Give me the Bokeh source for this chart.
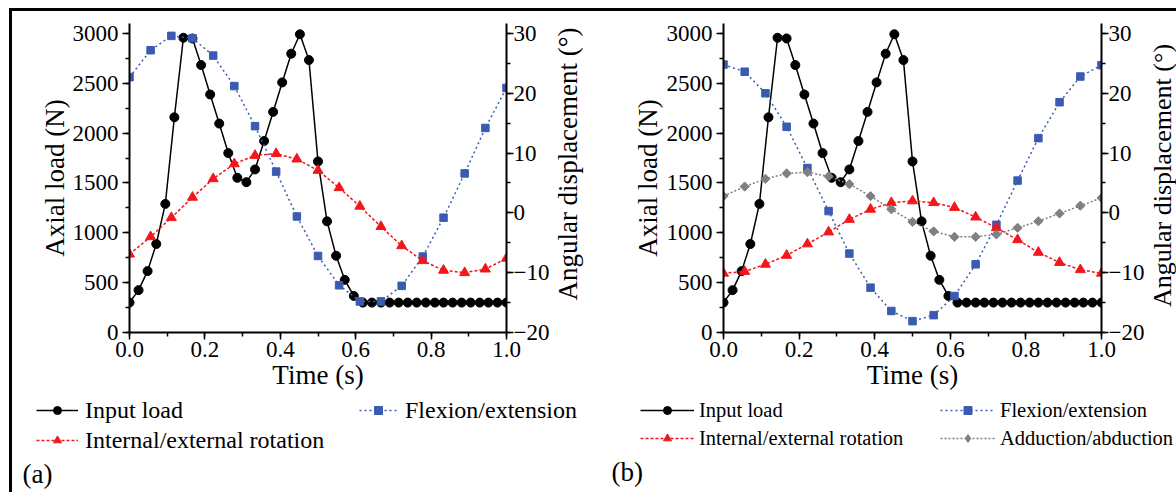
import math
from bokeh.plotting import figure
from bokeh.models import (Range1d, LinearAxis, SingleIntervalTicker, PrintfTickFormatter,
                          Label, Legend, LegendItem)
from bokeh.layouts import row, column
from bokeh.embed import file_html
from bokeh.resources import INLINE

# ---------------- data ----------------
time_load = [0.000, 0.024, 0.048, 0.071, 0.095, 0.119, 0.143, 0.167, 0.190, 0.214,
             0.238, 0.262, 0.286, 0.310, 0.333, 0.357, 0.381, 0.405, 0.429, 0.452,
             0.476, 0.500, 0.524, 0.548, 0.571, 0.595, 0.619, 0.643, 0.667, 0.690,
             0.714, 0.738, 0.762, 0.786, 0.810, 0.833, 0.857, 0.881, 0.905, 0.929,
             0.952, 0.976, 1.000]
load_n = [300, 425, 616, 888, 1290, 2159, 2957, 2950, 2683, 2388,
          2096, 1800, 1552, 1508, 1636, 1921, 2213, 2509, 2797, 2992,
          2733, 1716, 1115, 770, 528, 367, 300, 300, 300, 300,
          300, 300, 300, 300, 300, 300, 300, 300, 300, 300,
          300, 300, 300]

time_angle = [0.000, 0.056, 0.111, 0.167, 0.222, 0.278, 0.333, 0.389, 0.444, 0.500,
              0.556, 0.611, 0.667, 0.722, 0.778, 0.833, 0.889, 0.944, 1.000]
flex_a = [22.7, 27.2, 29.6, 29.2, 26.3, 21.2, 14.5, 6.9, -0.6, -7.2,
          -12.1, -14.8, -14.8, -12.2, -7.3, -0.8, 6.6, 14.2, 20.9]
rot_a = [-6.9, -4.0, -0.8, 2.6, 5.7, 8.2, 9.6, 9.9, 9.0, 7.1,
         4.2, 1.1, -2.3, -5.5, -8.0, -9.6, -10.0, -9.4, -7.6]
flex_b = [24.8, 23.6, 20.0, 14.4, 7.5, 0.3, -6.8, -12.5, -16.4, -18.1,
          -17.1, -13.9, -8.6, -2.0, 5.4, 12.5, 18.5, 22.8, 24.7]
rot_b = [-10.1, -9.8, -8.6, -7.1, -5.2, -3.2, -1.1, 0.6, 1.7, 2.0,
         1.7, 0.9, -0.7, -2.5, -4.5, -6.6, -8.3, -9.5, -10.1]
abd_b = [2.8, 4.4, 5.7, 6.6, 6.8, 6.1, 4.8, 2.8, 0.6, -1.5,
         -3.1, -4.0, -4.0, -3.6, -2.5, -1.4, -0.1, 1.2, 2.5]

x_label = "Time (s)"
y_label = "Axial load (N)"
y2_label = "Angular displacement (°)"
series_names = {"load": "Input load", "flex": "Flexion/extension",
                "rot": "Internal/external rotation", "abd": "Adduction/abduction"}

FONT = "Liberation Serif"
BLUE = "#3b5bb3"
RED = "#f2171c"
GRAY = "#808080"

MAIN_H = 385
MB_TOP = 12
MB_BOTTOM = 64
LEG_H = 96
LEG_X0 = 40          # offset of the legend strip's x range (keeps series out of view)
Y_MAX = 3100
ANG_MIN = -20
ANG_MAX = -20 + 50 * Y_MAX / 3000

STYLE = {
    "load": dict(color="black", marker="circle", size=9, dash="solid", angle=0),
    "flex": dict(color=BLUE, marker="square", size=7.5, dash="2 3", angle=0),
    "rot": dict(color=RED, marker="triangle", size=10, dash="3 2", angle=0),
    "abd": dict(color=GRAY, marker="square", size=6.5, dash="2 2", angle=math.pi / 4),
}
SERIES_DATA = {
    "a": {"load": load_n, "flex": flex_a, "rot": rot_a},
    "b": {"load": load_n, "flex": flex_b, "rot": rot_b, "abd": abd_b},
}


def style_axis(ax, label_standoff, title_standoff):
    ax.axis_line_width = 2
    ax.axis_line_color = "black"
    ax.major_tick_line_color = "black"
    ax.minor_tick_line_color = "black"
    ax.major_tick_line_width = 1.5
    ax.minor_tick_line_width = 1.5
    ax.major_tick_out = 7
    ax.major_tick_in = 0
    ax.minor_tick_out = 4
    ax.minor_tick_in = 0
    ax.major_label_text_font = FONT
    ax.major_label_text_font_size = "23px"
    ax.major_label_text_color = "black"
    ax.major_label_standoff = label_standoff
    ax.axis_label_text_font = FONT
    ax.axis_label_text_font_size = "27px"
    ax.axis_label_text_font_style = "normal"
    ax.axis_label_text_color = "black"
    ax.axis_label_standoff = title_standoff


def draw_series(p, key, ys, y_range_name="default", legend_only=False):
    xs = time_load if key == "load" else time_angle
    st = STYLE[key]
    marker, angle = st["marker"], st["angle"]
    if legend_only and key == "abd":
        marker, angle = "diamond", 0
    l = p.line(xs, ys, y_range_name=y_range_name, line_color=st["color"],
               line_width=1.5, line_dash=st["dash"])
    s = p.scatter(xs, ys, y_range_name=y_range_name, marker=marker,
                  size=st["size"] * (1.5 if marker == "diamond" else 1),
                  angle=angle, fill_color=st["color"], line_color=st["color"])
    return l, s


def bare_figure(width, height, x0=0):
    q = figure(width=width, height=height, x_range=Range1d(x0, x0 + width),
               y_range=Range1d(0, height), output_backend="svg", toolbar_location=None,
               x_axis_location=None, y_axis_location=None, frame_align=False,
               min_border_left=0, min_border_right=0, min_border_top=0, min_border_bottom=0)
    q.grid.visible = False
    q.outline_line_color = None
    return q


def make_main(width, mb_left, mb_right, panel, left_title_standoff):
    p = figure(width=width, height=MAIN_H, x_range=Range1d(0, 1),
               y_range=Range1d(0, Y_MAX), output_backend="svg", toolbar_location=None,
               min_border_left=mb_left, min_border_right=mb_right,
               min_border_top=MB_TOP, min_border_bottom=MB_BOTTOM)
    p.extra_y_ranges = {"ang": Range1d(ANG_MIN, ANG_MAX)}
    p.add_layout(LinearAxis(y_range_name="ang"), "right")
    p.grid.visible = False
    p.outline_line_color = None

    xa = p.xaxis[0]
    xa.ticker = SingleIntervalTicker(interval=0.2, num_minor_ticks=2)
    xa.formatter = PrintfTickFormatter(format="%.1f")
    xa.axis_label = x_label
    style_axis(xa, 2, 0)
    ya = p.yaxis[0]
    ya.ticker = SingleIntervalTicker(interval=500, num_minor_ticks=2)
    ya.axis_label = y_label
    style_axis(ya, 4, left_title_standoff)
    ra = p.yaxis[1]
    ra.ticker = SingleIntervalTicker(interval=10, num_minor_ticks=2)
    style_axis(ra, 0, 0)

    for key, vals in SERIES_DATA[panel].items():
        draw_series(p, key, vals, "default" if key == "load" else "ang")
    return p


def make_right_title(width, x, y, font_size):
    # strip to the right of a panel that carries the right-hand axis title
    q = bare_figure(width, MAIN_H)
    q.add_layout(Label(x=x, y=y, text=y2_label, angle=math.pi / 2, text_font=FONT,
                       text_font_size=font_size, text_align="center",
                       text_baseline="middle", text_color="black"))
    return q


def make_legend(width, panel, columns, tag, tag_pos, font_size, text_h, pitch):
    q = bare_figure(width, LEG_H, LEG_X0)
    rends = {}
    for key, vals in SERIES_DATA[panel].items():
        rends[key] = draw_series(q, key, vals, legend_only=True)
    for keys, loc, gw, stand in columns:
        items = [LegendItem(label=series_names[k], renderers=list(rends[k])) for k in keys]
        leg = Legend(items=items, location=loc, orientation="vertical",
                     padding=0, margin=0, spacing=pitch - text_h,
                     glyph_width=gw, glyph_height=20, label_height=text_h,
                     label_standoff=stand, label_text_font=FONT,
                     label_text_font_size=font_size, label_text_color="black",
                     background_fill_alpha=0, border_line_color=None)
        q.add_layout(leg)
    q.add_layout(Label(x=LEG_X0 + tag_pos[0], y=tag_pos[1], text=tag, text_font=FONT,
                       text_font_size="27px", text_align="left", text_baseline="middle",
                       text_color="black"))
    return q


p1 = make_main(540, 117, 46, "a", 0)
t1 = make_right_title(38, 15, 232.5, "27px")
p2 = make_main(557, 133, 46, "b", 1)
t2 = make_right_title(29, 14.5, 221, "26px")

l1 = make_legend(578, "a", [(["load", "rot"], (24, 38.5), 42, 7), (["flex"], (347, 68.5), 38, 8)],
                 "(a)", (10, 19), "24px", 27, 30)
l2 = make_legend(586, "b", [(["load", "rot"], (50, 42.5), 54, 5), (["flex", "abd"], (350, 42.5), 55, 5)],
                 "(b)", (21, 20.5), "20.5px", 23, 28)

layout = row(column(row(p1, t1), l1), column(row(p2, t2), l2),
             styles={"margin-left": "9px", "margin-top": "8px",
                     "border-top": "3px solid black", "border-left": "3px solid black"})

open("out.html", "w").write(file_html(layout, INLINE))
